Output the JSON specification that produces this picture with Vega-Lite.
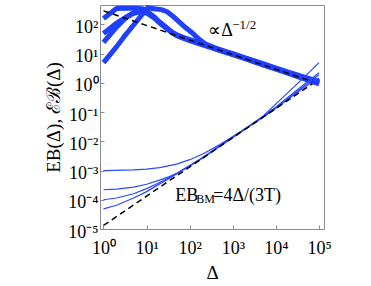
{
  "$schema": "https://vega.github.io/schema/vega-lite/v6.json",
  "width": 224,
  "height": 224,
  "autosize": {"type": "none"},
  "padding": {"left": 100, "top": 5, "right": 47, "bottom": 57},
  "config": {
    "view": {"stroke": "#8c8c8c", "strokeWidth": 1},
    "font": "Liberation Serif",
    "axis": {
      "domain": false, "grid": false,
      "tickColor": "#8c8c8c", "tickSize": -4,
      "labelFont": "Liberation Serif", "labelFontSize": 18, "labelColor": "#000",
      "titleFont": "Liberation Serif", "titleFontSize": 19, "titleFontWeight": "normal", "titleColor": "#000"
    }
  },
  "datasets": {
    "thick": [
      {"s": "T1", "d": 1, "v": 160}, {"s": "T1", "d": 2, "v": 350}, {"s": "T1", "d": 3, "v": 355}, {"s": "T1", "d": 5, "v": 355}, {"s": "T1", "d": 8, "v": 340}, {"s": "T1", "d": 10, "v": 290}, {"s": "T1", "d": 15, "v": 180}, {"s": "T1", "d": 20, "v": 120}, {"s": "T1", "d": 30, "v": 74}, {"s": "T1", "d": 40, "v": 53}, {"s": "T1", "d": 50, "v": 44}, {"s": "T1", "d": 70, "v": 36}, {"s": "T1", "d": 100, "v": 30}, {"s": "T1", "d": 150, "v": 24.5}, {"s": "T1", "d": 235, "v": 19.5}, {"s": "T1", "d": 400, "v": 14.8}, {"s": "T1", "d": 700, "v": 11.2}, {"s": "T1", "d": 1000, "v": 9.4}, {"s": "T1", "d": 2000, "v": 6.7}, {"s": "T1", "d": 3000, "v": 5.4}, {"s": "T1", "d": 5000, "v": 4.2}, {"s": "T1", "d": 7000, "v": 3.5}, {"s": "T1", "d": 10000, "v": 3.0}, {"s": "T1", "d": 20000, "v": 2.1}, {"s": "T1", "d": 30000, "v": 1.7}, {"s": "T1", "d": 50000, "v": 1.35}, {"s": "T1", "d": 70000, "v": 1.15}, {"s": "T1", "d": 100000, "v": 0.98},
      {"s": "T2", "d": 1, "v": 49}, {"s": "T2", "d": 2, "v": 110}, {"s": "T2", "d": 3.3, "v": 175}, {"s": "T2", "d": 5, "v": 240}, {"s": "T2", "d": 7, "v": 270}, {"s": "T2", "d": 10, "v": 245}, {"s": "T2", "d": 15, "v": 165}, {"s": "T2", "d": 20, "v": 112}, {"s": "T2", "d": 30, "v": 70}, {"s": "T2", "d": 40, "v": 51}, {"s": "T2", "d": 50, "v": 42}, {"s": "T2", "d": 70, "v": 35}, {"s": "T2", "d": 100, "v": 29}, {"s": "T2", "d": 150, "v": 23.5}, {"s": "T2", "d": 235, "v": 19}, {"s": "T2", "d": 400, "v": 14.8}, {"s": "T2", "d": 700, "v": 11.3}, {"s": "T2", "d": 1000, "v": 9.6}, {"s": "T2", "d": 2000, "v": 6.8}, {"s": "T2", "d": 3000, "v": 5.6}, {"s": "T2", "d": 5000, "v": 4.3}, {"s": "T2", "d": 10000, "v": 3.1}, {"s": "T2", "d": 20000, "v": 2.2}, {"s": "T2", "d": 50000, "v": 1.4}, {"s": "T2", "d": 100000, "v": 1.05},
      {"s": "T3", "d": 1, "v": 24}, {"s": "T3", "d": 2, "v": 80}, {"s": "T3", "d": 3.3, "v": 170}, {"s": "T3", "d": 5, "v": 250}, {"s": "T3", "d": 7, "v": 280}, {"s": "T3", "d": 10, "v": 255}, {"s": "T3", "d": 15, "v": 172}, {"s": "T3", "d": 20, "v": 116}, {"s": "T3", "d": 30, "v": 72}, {"s": "T3", "d": 40, "v": 50}, {"s": "T3", "d": 50, "v": 41}, {"s": "T3", "d": 70, "v": 34}, {"s": "T3", "d": 100, "v": 28}, {"s": "T3", "d": 150, "v": 23}, {"s": "T3", "d": 235, "v": 18.5}, {"s": "T3", "d": 400, "v": 14.2}, {"s": "T3", "d": 700, "v": 10.8}, {"s": "T3", "d": 1000, "v": 9.2}, {"s": "T3", "d": 2000, "v": 6.6}, {"s": "T3", "d": 5000, "v": 4.1}, {"s": "T3", "d": 10000, "v": 2.95}, {"s": "T3", "d": 20000, "v": 2.1}, {"s": "T3", "d": 50000, "v": 1.3}, {"s": "T3", "d": 100000, "v": 0.92},
      {"s": "T4", "d": 1, "v": 4.9}, {"s": "T4", "d": 2, "v": 17}, {"s": "T4", "d": 3, "v": 38}, {"s": "T4", "d": 5, "v": 95}, {"s": "T4", "d": 7, "v": 176}, {"s": "T4", "d": 10.5, "v": 370}, {"s": "T4", "d": 15, "v": 345}, {"s": "T4", "d": 22, "v": 320}, {"s": "T4", "d": 30, "v": 270}, {"s": "T4", "d": 40, "v": 195}, {"s": "T4", "d": 52, "v": 137}, {"s": "T4", "d": 80, "v": 78}, {"s": "T4", "d": 117, "v": 50}, {"s": "T4", "d": 160, "v": 32}, {"s": "T4", "d": 235, "v": 21}, {"s": "T4", "d": 400, "v": 15.5}, {"s": "T4", "d": 700, "v": 11.8}, {"s": "T4", "d": 1000, "v": 9.9}, {"s": "T4", "d": 2000, "v": 7.0}, {"s": "T4", "d": 5000, "v": 4.5}, {"s": "T4", "d": 10000, "v": 3.2}, {"s": "T4", "d": 20000, "v": 2.3}, {"s": "T4", "d": 50000, "v": 1.5}, {"s": "T4", "d": 100000, "v": 1.1}
    ],
    "thin": [
      {"s": "A", "d": 1, "v": 0.001}, {"s": "A", "d": 5, "v": 0.00105}, {"s": "A", "d": 10, "v": 0.00112}, {"s": "A", "d": 20, "v": 0.00126}, {"s": "A", "d": 50, "v": 0.00165}, {"s": "A", "d": 100, "v": 0.00235}, {"s": "A", "d": 200, "v": 0.0037}, {"s": "A", "d": 500, "v": 0.0077}, {"s": "A", "d": 1000, "v": 0.0145}, {"s": "A", "d": 2000, "v": 0.028}, {"s": "A", "d": 5000, "v": 0.072}, {"s": "A", "d": 10000, "v": 0.19}, {"s": "A", "d": 20000, "v": 0.5}, {"s": "A", "d": 50000, "v": 1.8}, {"s": "A", "d": 100000, "v": 4.9},
      {"s": "B", "d": 1, "v": 0.00022}, {"s": "B", "d": 2, "v": 0.00023}, {"s": "B", "d": 5, "v": 0.00027}, {"s": "B", "d": 10, "v": 0.00034}, {"s": "B", "d": 20, "v": 0.00047}, {"s": "B", "d": 35, "v": 0.00063}, {"s": "B", "d": 50, "v": 0.0008}, {"s": "B", "d": 100, "v": 0.00148}, {"s": "B", "d": 200, "v": 0.0028}, {"s": "B", "d": 500, "v": 0.007}, {"s": "B", "d": 1000, "v": 0.0142}, {"s": "B", "d": 2000, "v": 0.028}, {"s": "B", "d": 5000, "v": 0.07}, {"s": "B", "d": 10000, "v": 0.15}, {"s": "B", "d": 20000, "v": 0.34}, {"s": "B", "d": 50000, "v": 1.0}, {"s": "B", "d": 100000, "v": 2.2},
      {"s": "C", "d": 1, "v": 0.0001}, {"s": "C", "d": 2, "v": 0.000115}, {"s": "C", "d": 5, "v": 0.00016}, {"s": "C", "d": 10, "v": 0.00024}, {"s": "C", "d": 20, "v": 0.00039}, {"s": "C", "d": 35, "v": 0.00059}, {"s": "C", "d": 50, "v": 0.00079}, {"s": "C", "d": 100, "v": 0.00145}, {"s": "C", "d": 200, "v": 0.00275}, {"s": "C", "d": 500, "v": 0.0069}, {"s": "C", "d": 1000, "v": 0.0138}, {"s": "C", "d": 2000, "v": 0.0275}, {"s": "C", "d": 5000, "v": 0.068}, {"s": "C", "d": 10000, "v": 0.14}, {"s": "C", "d": 20000, "v": 0.31}, {"s": "C", "d": 50000, "v": 0.88}, {"s": "C", "d": 100000, "v": 1.9},
      {"s": "D", "d": 1, "v": 0.000049}, {"s": "D", "d": 2, "v": 0.000065}, {"s": "D", "d": 5, "v": 0.000115}, {"s": "D", "d": 10, "v": 0.00019}, {"s": "D", "d": 20, "v": 0.00035}, {"s": "D", "d": 35, "v": 0.00056}, {"s": "D", "d": 50, "v": 0.00078}, {"s": "D", "d": 100, "v": 0.00142}, {"s": "D", "d": 200, "v": 0.0027}, {"s": "D", "d": 500, "v": 0.0068}, {"s": "D", "d": 1000, "v": 0.0136}, {"s": "D", "d": 2000, "v": 0.027}, {"s": "D", "d": 5000, "v": 0.066}, {"s": "D", "d": 10000, "v": 0.135}, {"s": "D", "d": 20000, "v": 0.29}, {"s": "D", "d": 50000, "v": 0.78}, {"s": "D", "d": 100000, "v": 1.45}
    ],
    "ref": [
      {"s": "half", "d": 1, "v": 290}, {"s": "half", "d": 70000, "v": 1.1},
      {"s": "bm", "d": 1, "v": 0.0000133}, {"s": "bm", "d": 70000, "v": 0.93}
    ],
    "big": [
      {"d": 270, "v": 40, "t": "∝Δ"},
      {"d": 46, "v": 0.000094, "t": "EB"},
      {"d": 352, "v": 0.000094, "t": "=4Δ/(3T)"}
    ],
    "sup": [{"d": 968, "v": 70, "t": "−1/2"}],
    "sub": [{"d": 142, "v": 0.00008, "t": "BM"}]
  },
  "layer": [
    {
      "data": {"name": "thick"},
      "mark": {"type": "line", "color": "#2040ff", "strokeWidth": 5, "strokeJoin": "round"},
      "encoding": {
        "x": {"field": "d", "type": "quantitative", "scale": {"type": "log", "domain": [0.83, 130000], "nice": false},
          "axis": {"title": "Δ", "values": [1, 10, 100, 1000, 10000, 100000], "labelPadding": 14, "titlePadding": 6,
            "labelExpr": "'10' + ['⁻⁵','⁻⁴','⁻³','⁻²','⁻¹','⁰','¹','²','³','⁴','⁵'][round(log(datum.value)/LN10)+5]"}},
        "y": {"field": "v", "type": "quantitative", "scale": {"type": "log", "domain": [0.00001, 460], "nice": false},
          "axis": {"title": "EB(Δ), ℰℬ(Δ)", "values": [0.00001, 0.0001, 0.001, 0.01, 0.1, 1, 10, 100], "labelPadding": 6, "titlePadding": 4, "labelOffset": 3,
            "labelExpr": "'10' + ['⁻⁵','⁻⁴','⁻³','⁻²','⁻¹','⁰','¹','²','³','⁴','⁵'][round(log(datum.value)/LN10)+5]"}},
        "detail": {"field": "s"}
      }
    },
    {
      "data": {"name": "thin"},
      "mark": {"type": "line", "color": "#2a48ff", "strokeWidth": 1.2},
      "encoding": {
        "x": {"field": "d", "type": "quantitative"},
        "y": {"field": "v", "type": "quantitative"},
        "detail": {"field": "s"}
      }
    },
    {
      "data": {"name": "ref"},
      "mark": {"type": "line", "color": "#000000", "strokeWidth": 1.5, "strokeDash": [6, 4]},
      "encoding": {
        "x": {"field": "d", "type": "quantitative"},
        "y": {"field": "v", "type": "quantitative"},
        "detail": {"field": "s"}
      }
    },
    {
      "data": {"name": "big"},
      "mark": {"type": "text", "align": "left", "baseline": "alphabetic", "fontSize": 18, "font": "Liberation Serif", "color": "#000"},
      "encoding": {
        "x": {"field": "d", "type": "quantitative"},
        "y": {"field": "v", "type": "quantitative"},
        "text": {"field": "t"}
      }
    },
    {
      "data": {"name": "sup"},
      "mark": {"type": "text", "align": "left", "baseline": "alphabetic", "fontSize": 13, "font": "Liberation Serif", "color": "#000"},
      "encoding": {
        "x": {"field": "d", "type": "quantitative"},
        "y": {"field": "v", "type": "quantitative"},
        "text": {"field": "t"}
      }
    },
    {
      "data": {"name": "sub"},
      "mark": {"type": "text", "align": "left", "baseline": "alphabetic", "fontSize": 12, "font": "Liberation Serif", "color": "#000"},
      "encoding": {
        "x": {"field": "d", "type": "quantitative"},
        "y": {"field": "v", "type": "quantitative"},
        "text": {"field": "t"}
      }
    }
  ]
}
